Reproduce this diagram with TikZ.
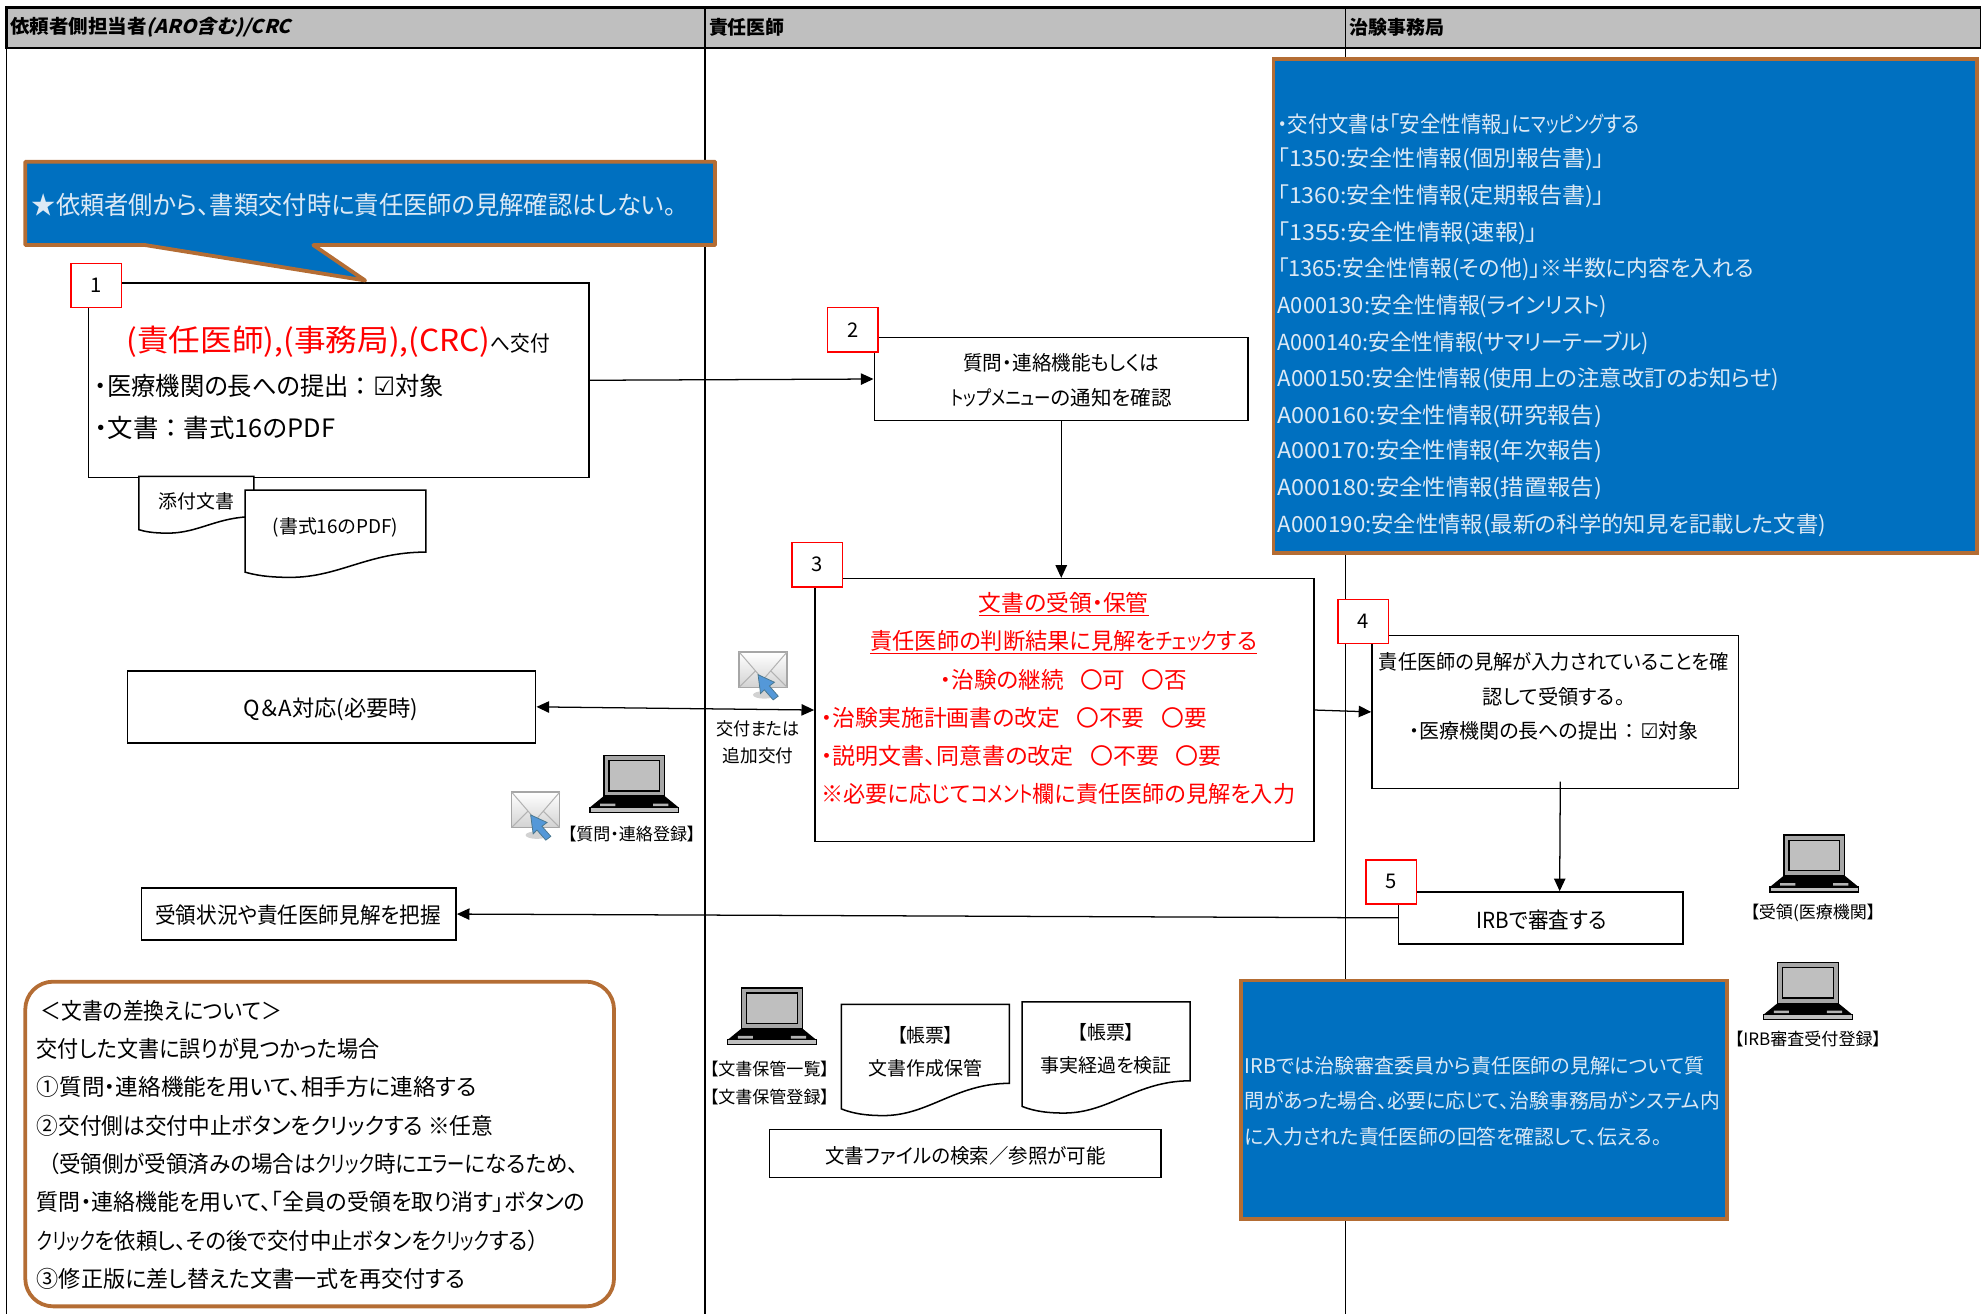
\documentclass[tikz,border=0pt]{standalone}
\usepackage{fontspec}
\usepackage{tikz}
\usetikzlibrary{arrows.meta}
\setmainfont{Noto Sans CJK JP}[RawFeature=+palt]
\newfontfamily\headit{Noto Sans CJK JP}[RawFeature=+palt,UprightFeatures={FakeSlant=0.25},BoldFeatures={FakeSlant=0.25}]
\newfontfamily\symfont{DejaVu Sans}
\definecolor{bluefill}{HTML}{0070C0}
\definecolor{brownline}{HTML}{B46D34}
\definecolor{headgray}{HTML}{BFBFBF}
\definecolor{bluetext}{HTML}{DCE9F5}
\newcommand{\chk}{{\symfont ☑}}
\newcommand{\nk}[2][.8]{\scalebox{#1}[1]{#2}}
\newcommand{\fitw}[2]{\resizebox{#1pt}{\height}{#2}}
\newcommand{\coln}{\hspace{5pt}：\hspace{5pt}}
\newcommand{\docpaper}[6]{
\draw[line width=1.2pt,fill=white] (#2,#3) -- (#2+#4,#3) -- (#2+#4,#3+.71*#5) .. controls (#2+.68*#4,#3+.71*#5) and (#2+.52*#4,#3+#5) .. (#2+.25*#4,#3+#5) .. controls (#2+.12*#4,#3+#5) and (#2+.05*#4,#3+.97*#5) .. (#2,#3+.94*#5) -- cycle;
\node[txt15,anchor=center,align=center] (#1) at (#2+.5*#4,#3+.42*#5) {#6};
}
\tikzset{
txt13/.style={inner sep=0,yshift=-.5pt,anchor=center,font=\fontsize{13.5}{15}\selectfont},
txt14/.style={inner sep=0,yshift=-.5pt,anchor=west,font=\fontsize{14}{26}\selectfont},
txt15/.style={inner sep=0,yshift=-.5pt,anchor=west,font=\fontsize{15}{26}\selectfont},
txt16/.style={inner sep=0,yshift=-.5pt,anchor=west,font=\fontsize{16}{18}\selectfont},
txt17/.style={inner sep=0,yshift=-.5pt,anchor=west,font=\fontsize{17.5}{19}\selectfont},
txt18/.style={inner sep=0,yshift=-.5pt,anchor=west,font=\fontsize{18}{20}\selectfont},
txt20/.style={inner sep=0,yshift=-.5pt,anchor=west,font=\fontsize{20}{22}\selectfont},
headtxt/.style={inner sep=0,anchor=west,font=\fontsize{15}{17}\selectfont\bfseries},
flow/.style={draw,line width=1.2pt,fill=white,inner sep=0},
numbox/.style={draw=red,line width=1.2pt,fill=white,minimum width=40pt,minimum height=35pt,inner sep=0,font=\fontsize{16}{18}\selectfont},
bluebox/.style={draw=brownline,line width=3pt,fill=bluefill,inner sep=0},
arr/.style={-{Triangle[length=10pt,width=9pt]},line width=1pt},
laptop/.pic={
\fill[black] (-24,10) -- (24,10) -- (35,19) -- (-35,19) -- cycle;
\draw[line width=1pt,fill=gray!70] (-24,-22) rectangle (24,10);
\draw[line width=1pt,fill=headgray] (-20,-18) rectangle (20,6);
\fill[gray!60] (-27,16) rectangle (-15,18) (15,16) rectangle (27,18);
\draw[line width=1pt,fill=headgray] (-35,19) rectangle (35,23);
},
mail/.pic={
\fill[gray!35] (1,16) ellipse (9 and 3);
\shade[top color=white,bottom color=gray!35,draw=gray!70,line width=1.2pt] (-19,-18) rectangle (19,10);
\draw[gray!60,line width=.8pt] (-19,-18) -- (0,4) -- (19,-18) (-19,10) -- (-6,-3) (19,10) -- (6,-3);
\draw[fill=cyan!60!blue!70,draw=cyan!50!black,line width=.6pt] (-4,0) -- (9,6) -- (5,9) -- (12,17) -- (8,20) -- (1,12) -- (-2,15) -- cycle;
}
}
\begin{document}
\begin{tikzpicture}
[x=1pt,y=-1pt]
\useasboundingbox (0,0) rectangle (1568,1040);

\draw[line width=2pt,fill=headgray] (5,6) rectangle (1568,38);
\draw[line width=1.2pt] (5,6) -- (5,1040);
\draw[line width=1.2pt] (558,6) -- (558,1040);
\draw[line width=1.2pt] (1065,6) -- (1065,1040);
\node[headtxt] (head1) at (8,22) {\fitw{222}{依頼者側担当者{\headit (ARO含む)/CRC}}};
\node[headtxt] (head2) at (561,22) {責任医師};
\node[headtxt] (head3) at (1068,22) {治験事務局};

\node[flow,minimum width=396pt,minimum height=154pt] (box1) at (268,301) {};
\draw[bluebox,line join=round] (20,128) -- (566,128) -- (566,194) -- (248,194) -- (289,222) -- (115,194) -- (20,194) -- cycle;
\node[txt20,text=bluetext] (note1) at (25,162) {\fitw{510}{★依頼者側から、書類交付時に責任医師の見解確認はしない。}};
\node[numbox] (n1) at (76,226) {1};
\node[txt14,font=\fontsize{24}{26}\selectfont,text=red] (t1a) at (100,270) {\fitw{288}{(責任医師),(事務局),(CRC)}\textcolor{black}{\fontsize{17}{19}\selectfont\fitw{47}{へ交付}}};
\node[txt20] (t1b) at (75,305) {\fitw{276}{・医療機関の長への提出\coln\chk 対象}};
\node[txt20] (t1c) at (75,338) {\fitw{190}{・文書\coln 書式16のPDF}};
\docpaper{doc1}{110}{377}{91}{45}{添付文書}
\docpaper{doc2}{194}{388}{143}{69}{(書式16のPDF)}

\node[flow,minimum width=296pt,minimum height=66pt] (box2) at (840,300) {};
\node[numbox] (n2) at (675,261) {2};
\node[txt16,anchor=center] (t2a) at (840,287) {\fitw{155}{質問・連絡機能もしくは}};
\node[txt16,anchor=center] (t2b) at (840,314) {\fitw{175}{\nk{トップメニュー}の通知を確認}};

\node[flow,minimum width=395pt,minimum height=208pt] (box3) at (842.5,562) {};
\node[numbox] (n3) at (647,447) {3};
\node[txt18,anchor=center,text=red] (t3a) at (842,478) {\underline{文書の受領・保管}};
\node[txt18,anchor=center,text=red] (t3b) at (842,508) {\underline{\fitw{306}{責任医師の判断結果に見解を\nk{チェック}する}}};
\node[txt18,anchor=center,text=red] (t3c) at (842,538) {\fitw{195}{・治験の継続\hspace{13pt}〇可\hspace{13pt}〇否}};
\node[txt18,text=red] (t3d) at (650,568) {\fitw{305}{・治験実施計画書の改定\hspace{13pt}〇不要\hspace{13pt}〇要}};
\node[txt18,text=red] (t3e) at (650,598) {\fitw{317}{・説明文書、同意書の改定\hspace{13pt}〇不要\hspace{13pt}〇要}};
\node[txt18,text=red] (t3f) at (650,628) {\fitw{375}{※必要に応じて\nk{コメント}欄に責任医師の見解を入力}};

\node[flow,minimum width=290pt,minimum height=121pt] (box4) at (1231,563.5) {};
\node[numbox] (n4) at (1079,492) {4};
\node[txt16,anchor=center] (t4a) at (1230,523) {\fitw{277}{責任医師の見解が入力されていることを確}};
\node[txt16,anchor=center] (t4b) at (1230,551) {認して受領する。};
\node[txt16,anchor=center] (t4c) at (1230,578) {\fitw{229}{・医療機関の長への提出\coln\chk 対象}};

\node[flow,minimum width=225pt,minimum height=41pt] (box5) at (1219.5,726.5) {};
\node[numbox] (n5) at (1101,698) {5};
\node[txt17,anchor=center] (t5) at (1220,728) {\fitw{103}{IRBで審査する}};

\node[flow,minimum width=323pt,minimum height=57pt] (qa) at (262.5,559.5) {};
\node[txt17,anchor=center] (t6) at (262,561) {\fitw{138}{Q＆A対応(必要時)}};
\node[flow,minimum width=249pt,minimum height=41pt] (status) at (236.5,723.5) {};
\node[txt17,anchor=center] (t7) at (236,724) {\fitw{226}{受領状況や責任医師見解を把握}};

\node[txt14,anchor=center] (t8a) at (600,576) {\fitw{66}{交付または}};
\node[txt14,anchor=center] (t8b) at (600,598) {追加交付};
\pic at (604,534) {mail};
\pic at (424,645) {mail};
\pic at (502,620) {laptop};
\pic at (611,804) {laptop};
\pic at (1436,683) {laptop};
\pic at (1431,784) {laptop};
\node[txt13] (lab1) at (500,660) {【質問・連絡登録】};
\node[txt13] (lab2) at (609,846) {【文書保管一覧】};
\node[txt13] (lab3) at (609,868) {【文書保管登録】};
\node[txt13] (lab4) at (1435,722) {【受領(医療機関】};
\node[txt13] (lab5) at (1431,822) {【IRB審査受付登録】};

\docpaper{doc3}{666}{795}{133}{88}{【帳票】\\文書作成保管}
\docpaper{doc4}{809}{793}{133}{88}{【帳票】\\事実経過を検証}
\node[flow,minimum width=310pt,minimum height=38pt] (search) at (764,913) {};
\node[txt16,anchor=center] (t9) at (764,914) {\fitw{222}{文書ファイルの検索／参照が可能}};

\node[bluebox,minimum width=557pt,minimum height=391pt] (blue1) at (1286.5,242.5) {};
\foreach \y/\w/\t in {98/287/・交付文書は「安全性情報」に\nk{マッピング}する,126/259/「1350:安全性情報(個別報告書)」,155/259/「1360:安全性情報(定期報告書)」,184/206/「1355:安全性情報(速報)」,213/377/「1365:安全性情報(その他)」※半数に内容を入れる,242/261/A000130:安全性情報(ラインリスト),271/294/A000140:安全性情報(サマリーテーブル),300/397/A000150:安全性情報(使用上の注意改訂のお知らせ),329/257/A000160:安全性情報(研究報告),357/257/A000170:安全性情報(年次報告),386/257/A000180:安全性情報(措置報告),415/434/A000190:安全性情報(最新の科学的知見を記載した文書)}
\node[txt17,text=bluetext] (blue1\y) at (1011,\y) {\fitw{\w}{\t}};

\node[bluebox,minimum width=385pt,minimum height=189pt] (blue2) at (1174.5,870.5) {};
\node[txt16,text=bluetext] (b2a) at (985,843) {\fitw{364}{IRBでは治験審査委員から責任医師の見解について質}};
\node[txt16,text=bluetext] (b2b) at (985,871) {\fitw{376}{問があった場合、必要に応じて、治験事務局がシステム内}};
\node[txt16,text=bluetext] (b2c) at (985,899) {\fitw{330}{に入力された責任医師の回答を確認して、伝える。}};

\node[draw=brownline,line width=3pt,fill=white,rounded corners=22pt,minimum width=466pt,minimum height=257pt] (swap) at (253,905.5) {};
\foreach \y/\x/\w/\t in {800/32/191/＜文書の差換えについて＞,830/29/271/交付した文書に誤りが見つかった場合,860/29/348/①質問・連絡機能を用いて、相手方に連絡する,891/29/361/②交付側は交付中止ボタンをクリックする ※任意,921/38/420/（受領側が受領済みの場合は\nk{クリック}時に\nk{エラー}になるため、,951/29/434/質問・連絡機能を用いて、「全員の受領を取り消す」ボタンの,982/29/397/\nk{クリック}を依頼し、その後で交付中止ボタンを\nk{クリック}する）,1012/29/339/③修正版に差し替えた文書一式を再交付する}
\node[txt18] (swap\y) at (\x,\y) {\fitw{\w}{\t}};

\draw[arr] (box1.east) -- (box2.west);
\draw[arr] (box2.south) -- (box2.south |- box3.north);
\draw[arr,{Triangle[length=10pt,width=9pt]}-{Triangle[length=10pt,width=9pt]}] (qa.east) -- (box3.west);
\draw[arr] (box3.east) -- (box4.west);
\draw[arr] ([xshift=4pt,yshift=6pt]box4.south) -- ([xshift=15pt]box5.north);
\draw[arr] (box5.west) -- (status.east);
\end{tikzpicture}
\end{document}
